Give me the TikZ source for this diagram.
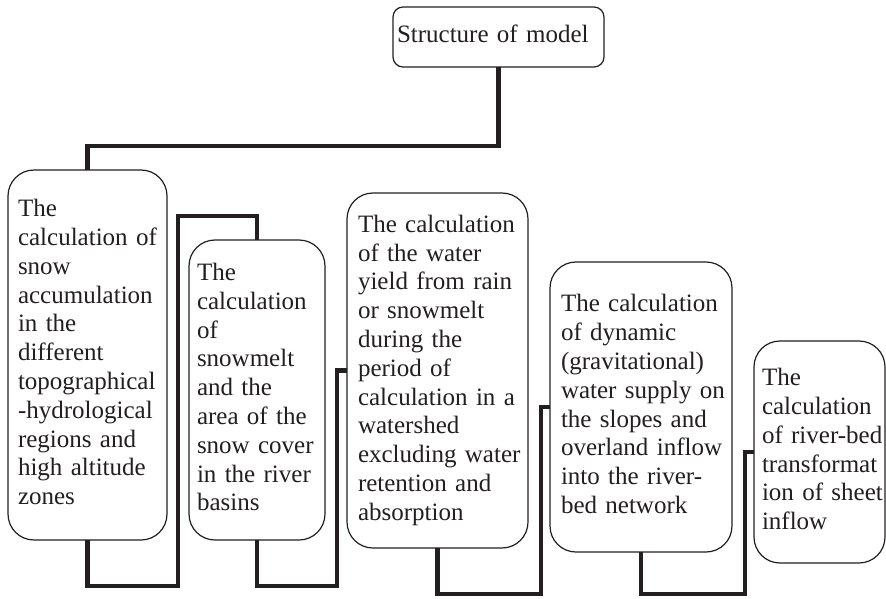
\documentclass[tikz,border=0pt]{standalone}
\usepackage{fontspec}
\setmainfont{Liberation Serif}
\definecolor{ink}{HTML}{231F20}
\newcommand{\lines}[1]{\begin{tabular}{@{}l@{}}#1\end{tabular}}
\begin{document}
\begin{tikzpicture}[x=1pt,y=-1pt,
  every node/.style={font=\fontsize{25}{28.8}\selectfont, text=ink},
  mbox/.style={draw=ink, line width=1.2pt, fill=white, rounded corners=26pt,
    anchor=north west, align=left, inner ysep=0pt, outer sep=0pt},
  topbox/.style={draw=ink, line width=1.2pt, fill=white, rounded corners=10pt,
    anchor=north west, align=left, inner ysep=0pt, outer sep=0pt},
  conn/.style={draw=ink, line width=4.5pt, line join=miter}]
\useasboundingbox (0,0) rectangle (886,599);

\node[topbox, inner xsep=4pt, text width=203pt, minimum height=60pt] (top) at (393,7) {\lines{Structure of model}};

\node[mbox, inner xsep=10pt, text width=139pt, minimum height=370pt] (b1) at (8,170)
  {\lines{The\\calculation of\\snow\\accumulation\\in the\\different\\topographical\\-hydrological\\regions and\\high altitude\\zones}};
\node[mbox, inner xsep=8pt, text width=120pt, minimum height=300pt] (b2) at (189,240)
  {\lines{The\\calculation\\of\\snowmelt\\and the\\area of the\\snow cover\\in the river\\basins}};
\node[mbox, inner xsep=11pt, text width=159pt, minimum height=355pt] (b3) at (347,193)
  {\lines{The calculation\\of the water\\yield from rain\\or snowmelt\\during the\\period of\\calculation in a\\watershed\\excluding water\\retention and\\absorption}};
\node[mbox, inner xsep=11pt, text width=160pt, minimum height=290pt] (b4) at (550,262)
  {\lines{The calculation\\of dynamic\\(gravitational)\\water supply on\\the slopes and\\overland inflow\\into the river-\\bed network}};
\node[mbox, inner xsep=8pt, text width=115pt, minimum height=222pt] (b5) at (754,341)
  {\lines{The\\calculation\\of river-bed\\transformat\\ion of sheet\\inflow}};

\draw[conn] (top.south) -- (top.south |- 0,146) -| (b1.north);
\draw[conn] (b1.south) |- (178,586) |- (b2.north |- 0,216) -- (b2.north);
\draw[conn] (b2.south) |- (337,586) |- (b3.west);
\draw[conn] (b3.south) |- (541,594) |- (b4.west);
\draw[conn] (b4.south) |- (745,594) |- (b5.west);
\end{tikzpicture}
\end{document}
